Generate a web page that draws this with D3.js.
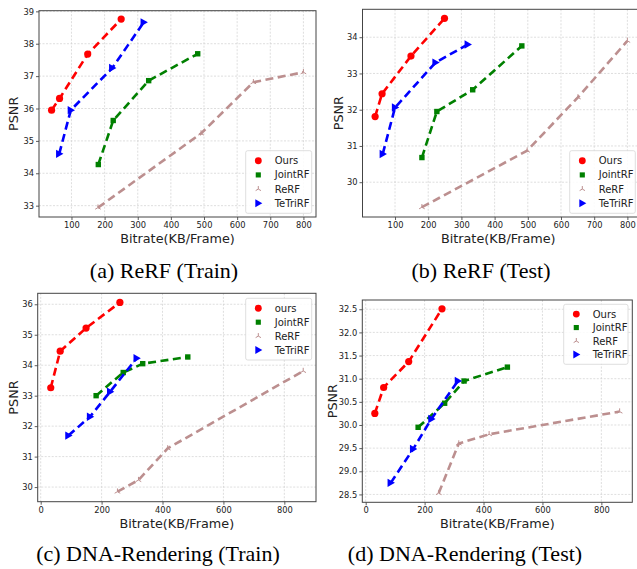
<!DOCTYPE html>
<html><head><meta charset="utf-8">
<script src="https://cdn.jsdelivr.net/npm/d3@7"></script>
<style>body{margin:0;background:#fff;} svg{display:block;}</style>
</head><body>
<svg id="chart" width="637" height="569"></svg>
<script>
// ---- data ----
const seriesNames = ["Ours", "JointRF", "ReRF", "TeTriRF"];
const seriesNamesC = ["ours", "JointRF", "ReRF", "TeTriRF"];
const captions = ["(a) ReRF (Train)", "(b) ReRF (Test)", "(c) DNA-Rendering (Train)", "(d) DNA-Rendering (Test)"];

// (a) ReRF Train
const aOurs    = [[40,35.95],[64,36.31],[149,37.68],[250,38.76]];
const aJoint   = [[181,34.27],[226,35.63],[333,36.86],[481,37.69]];
const aReRF    = [[180,32.94],[491,35.23],[649,36.81],[800,37.12]];
const aTeTri   = [[63,34.6],[98,35.95],[223,37.25],[318,38.66]];
// (b) ReRF Test
const bOurs    = [[40,31.81],[61,32.44],[148,33.48],[249,34.52]];
const bJoint   = [[181,30.68],[226,31.95],[334,32.55],[482,33.76]];
const bReRF    = [[181,29.31],[498,30.87],[651,32.34],[800,33.9]];
const bTeTri   = [[63,30.78],[100,32.06],[222,33.3],[319,33.8]];
// (c) DNA-Rendering Train
const cOurs    = [[33,33.26],[64,34.46],[149,35.22],[260,36.06]];
const cJoint   = [[182,33.0],[271,33.76],[335,34.05],[483,34.27]];
const cReRF    = [[252,29.85],[321,30.23],[417,31.27],[862,33.81]];
const cTeTri   = [[91,31.69],[162,32.31],[228,33.13],[315,34.23]];
// (d) DNA-Rendering Test
const dOurs    = [[31,30.25],[61,30.81],[146,31.37],[259,32.51]];
const dJoint   = [[178,29.95],[268,30.47],[334,30.95],[481,31.25]];
const dReRF    = [[248,28.53],[316,29.6],[419,29.8],[862,30.29]];
const dTeTri   = [[85,28.75],[161,29.48],[223,30.13],[313,30.95]];

const xTicksAB = [100,200,300,400,500,600,700,800];
const xTicksCD = [0,200,400,600,800];
const yTicksA = [33,34,35,36,37,38,39];
const yTicksB = [30,31,32,33,34];
const yTicksC = [30,31,32,33,34,35,36];
const yTicksD = [28.5,29.0,29.5,30.0,30.5,31.0,31.5,32.0,32.5];

// ---- layout / style ----
const colors = ["#ff0000", "#008000", "#bc8f8f", "#0000ff"];
const markers = ["circle", "square", "tri", "right"];

const panels = [
  {series:[aOurs,aJoint,aReRF,aTeTri], names:seriesNames, box:[39,10.7,316,217], xd:[2,838], yd:[32.65,39.02],
   xt:xTicksAB, yt:yTicksA, yf:d3.format("d"), leg:[245.7,150.7,311.7,213.3], ylx:13.5, cap:[164,278]},
  {series:[bOurs,bJoint,bReRF,bTeTri], names:seriesNames, box:[362.5,9.3,640,217], xd:[2,838], yd:[29.04,34.77],
   xt:xTicksAB, yt:yTicksB, yf:d3.format("d"), leg:[569.7,150.7,635.3,213.3], ylx:338, cap:[481,278]},
  {series:[cOurs,cJoint,cReRF,cTeTri], names:seriesNamesC, box:[37.7,293.3,316,501.7], xd:[-9.85,904], yd:[29.52,36.36],
   xt:xTicksCD, yt:yTicksC, yf:d3.format("d"), leg:[245.7,298.3,311.7,360], ylx:13.5, cap:[158,561]},
  {series:[dOurs,dJoint,dReRF,dTeTri], names:seriesNames, box:[362.3,300,632.3,502.3], xd:[-11.5,905], yd:[28.33,32.7],
   xt:xTicksCD, yt:yTicksD, yf:d3.format(".1f"), leg:[563.7,304.3,628,364.3], ylx:332, cap:[465,561]}
];

const svg = d3.select("#chart");
const tickFont = "DejaVu Sans, sans-serif";

function drawMarker(g, type, x, y, color, scale) {
  scale = scale || 1;
  if (type === "circle") {
    g.append("circle").attr("cx", x).attr("cy", y).attr("r", 3.6*scale).attr("fill", color);
  } else if (type === "square") {
    const s = 5.4*scale;
    g.append("rect").attr("x", x-s/2).attr("y", y-s/2).attr("width", s).attr("height", s).attr("fill", color);
  } else if (type === "right") {
    const s = 4.2*scale;
    g.append("path").attr("d", `M${x+s},${y} L${x-s*0.75},${y-s} L${x-s*0.75},${y+s} Z`).attr("fill", color);
  } else if (type === "tri") {
    const s = 3.2*scale;
    g.append("path")
      .attr("d", `M${x},${y} L${x},${y-s} M${x},${y} L${x-s*0.87},${y+s*0.5} M${x},${y} L${x+s*0.87},${y+s*0.5}`)
      .attr("stroke", color).attr("stroke-width", 1).attr("fill", "none");
  }
}

panels.forEach((p, pi) => {
  const [L, T, R, B] = p.box;
  const x = d3.scaleLinear().domain(p.xd).range([L, R]);
  const y = d3.scaleLinear().domain(p.yd).range([B, T]);
  const g = svg.append("g");

  // grid
  g.append("g").selectAll("line").data(p.xt).join("line")
    .attr("x1", d => x(d)).attr("x2", d => x(d)).attr("y1", T).attr("y2", B)
    .attr("stroke", "#d0d0d0").attr("stroke-width", 0.7).attr("stroke-dasharray", "2,1.5");
  g.append("g").selectAll("line").data(p.yt).join("line")
    .attr("x1", L).attr("x2", R).attr("y1", d => y(d)).attr("y2", d => y(d))
    .attr("stroke", "#d0d0d0").attr("stroke-width", 0.7).attr("stroke-dasharray", "2,1.5");

  // axes
  const xa = g.append("g").attr("transform", `translate(0,${B})`)
    .call(d3.axisBottom(x).tickValues(p.xt).tickSize(3).tickPadding(2).tickFormat(d3.format("d")));
  const ya = g.append("g").attr("transform", `translate(${L},0)`)
    .call(d3.axisLeft(y).tickValues(p.yt).tickSize(3).tickPadding(2).tickFormat(p.yf));
  [xa, ya].forEach(a => {
    a.select(".domain").remove();
    a.selectAll("line").attr("stroke", "#333").attr("stroke-width", 0.8);
    a.selectAll("text").attr("fill", "#222").attr("font-family", tickFont).attr("font-size", "8.3px");
  });

  // frame
  g.append("rect").attr("x", L).attr("y", T).attr("width", R-L).attr("height", B-T)
    .attr("fill", "none").attr("stroke", "#444").attr("stroke-width", 1);

  // series
  const line = d3.line().x(d => x(d[0])).y(d => y(d[1]));
  p.series.forEach((s, si) => {
    g.append("path").datum(s).attr("d", line).attr("fill", "none")
      .attr("stroke", colors[si]).attr("stroke-width", 2.6).attr("stroke-dasharray", "8,4.5");
    s.forEach(d => drawMarker(g, markers[si], x(d[0]), y(d[1]), colors[si]));
  });

  // labels
  g.append("text").attr("x", (L+Math.min(R,637))/2 + (pi===1?-1.5:0)).attr("y", B + 26)
    .attr("text-anchor", "middle").attr("font-family", tickFont).attr("font-size", "12.8px").attr("fill", "#222")
    .text("Bitrate(KB/Frame)");
  g.append("text").attr("transform", `translate(${p.ylx},${(T+B)/2}) rotate(-90)`)
    .attr("text-anchor", "middle").attr("dominant-baseline", "central")
    .attr("font-family", tickFont).attr("font-size", "12.8px").attr("fill", "#222").text("PSNR");

  // legend
  const [lx0, ly0, lx1, ly1] = p.leg;
  g.append("rect").attr("x", lx0).attr("y", ly0).attr("width", lx1-lx0).attr("height", ly1-ly0)
    .attr("rx", 2).attr("fill", "#fff").attr("fill-opacity", 0.85).attr("stroke", "#d6d6d6").attr("stroke-width", 0.8);
  const rowH = (ly1 - ly0 - 6) / 4;
  p.names.forEach((n, i) => {
    const cy = ly0 + 3 + rowH*(i+0.5);
    drawMarker(g, markers[i], lx0 + 12.6, cy, colors[i], 0.95);
    g.append("text").attr("x", lx0 + 29).attr("y", cy).attr("dominant-baseline", "central")
      .attr("font-family", tickFont).attr("font-size", "10px").attr("fill", "#222").text(n);
  });

  // caption
  svg.append("text").attr("x", p.cap[0]).attr("y", p.cap[1]).attr("text-anchor", "middle")
    .attr("font-family", "Liberation Serif, Times New Roman, serif").attr("font-size", "22px").attr("fill", "#000")
    .text(captions[pi]);
});
</script>
</body></html>
